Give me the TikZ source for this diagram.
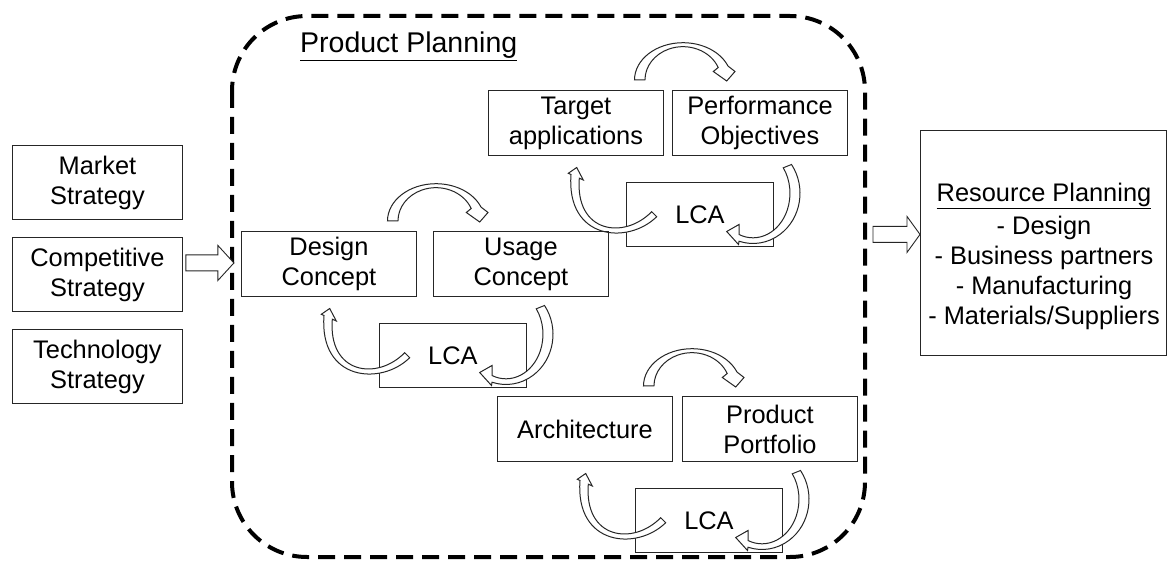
\documentclass[tikz,border=0pt]{standalone}
\usepackage{fontspec}
\setmainfont{Liberation Sans}
\tikzset{
  txt/.style={align=center, inner sep=0pt, font=\fontsize{25.4}{30}\selectfont},
  box/.style={txt, draw=black!85, line width=0.9pt},
  pbox/.style={box, minimum width=175pt, minimum height=65pt, anchor=north west},
  lcabox/.style={box, minimum width=147pt, minimum height=64pt, anchor=north west},
  sbox/.style={box, minimum width=170pt, minimum height=74pt, anchor=north west},
  border/.style={dash pattern=on 17pt off 9pt, line width=4pt, rounded corners=75pt},
  blockarrow/.style={draw=black!85, line width=0.9pt, fill=white, line join=miter},
  carrow/.style={draw=black!85, line width=1pt, fill=white, line join=miter},
}
% three curved hollow arrows of one planning group, in group coordinates
\newcommand\groupcurves{%
  % top: left box -> right box
  \draw[carrow] (146.5,-10) arc[start angle=180, end angle=338, x radius=48.5, y radius=37.3]
     -- (247,-18.5) -- (238.7,-9) -- (225.3,-18.5) -- (230.2,-22.5)
     arc[start angle=338, end angle=180, x radius=38, y radius=33.3] -- cycle;
  % right: right box -> LCA
  \draw[carrow] (303.5,74.5) arc[start angle=-35, end angle=107.3, x radius=47, y radius=50.2]
     -- (250.5,154.5) -- (238.7,141.5) -- (251,134.5) -- (251,144.5)
     arc[start angle=112.2, end angle=-35, x radius=37, y radius=44.5] -- cycle;
  % left: LCA -> left box
  \draw[carrow] (168.7,126.7) .. controls (140,155) and (78,150) .. (83,84.5)
     -- (80.3,83.3) -- (88.7,77.5) -- (95.3,90) -- (91.3,88.2)
     .. controls (87,143) and (136,150) .. (163.7,121.7) -- cycle;
}
\newcommand\pgroup[7]{%
  \begin{scope}[shift={#1}]
    \node[pbox] (#3) at (0,0) {#4};
    \node[pbox] (#5) at (#2,0) {#6};
    \node[lcabox] (#7) at (138,92) {LCA};
    \groupcurves
  \end{scope}
}
\begin{document}
\begin{tikzpicture}[x=1pt, y=-1pt]
\useasboundingbox (0,0) rectangle (1168,561);

% dashed product planning frame
\draw[border] (232,16) rectangle (865,557);
\node[anchor=base west, inner sep=0pt, font=\fontsize{28.5}{34}\selectfont] (title) at (300,52.7) {\underline{Product Planning}};

% strategy boxes
\node[sbox] (market) at (12,145) {Market\\Strategy};
\node[sbox] (comp) at (12,237) {Competitive\\Strategy};
\node[sbox] (tech) at (12,329) {Technology\\Strategy};

% resource planning
\node[box, minimum width=246pt, minimum height=225pt, anchor=north west] (res) at (920,130) {};
\node[txt] (restext) at (1044,256.5) {\underline{Resource Planning}\\[3pt]- Design\\- Business partners\\- Manufacturing\\- Materials/Suppliers};

% block arrows
\draw[blockarrow] ([yshift=11.5pt]comp.east) ++(3,-8) -- ++(32,0) -- ++(0,-9.5) -- ++(16,17.5) -- ++(-16,17.5) -- ++(0,-9.5) -- ++(-32,0) -- cycle;
\draw[blockarrow] ([yshift=8.5pt]res.west) -- ++(-13,-18) -- ++(0,10) -- ++(-34,0) -- ++(0,16) -- ++(34,0) -- ++(0,10) -- cycle;

% planning groups
\pgroup{(488,90)}{184}{target}{Target\\applications}{perf}{Performance\\Objectives}{lcaA}
\pgroup{(241,231)}{192}{design}{Design\\Concept}{usage}{Usage\\Concept}{lcaB}
\pgroup{(497,396)}{185}{arch}{Architecture}{port}{Product\\Portfolio}{lcaC}
\end{tikzpicture}
\end{document}
